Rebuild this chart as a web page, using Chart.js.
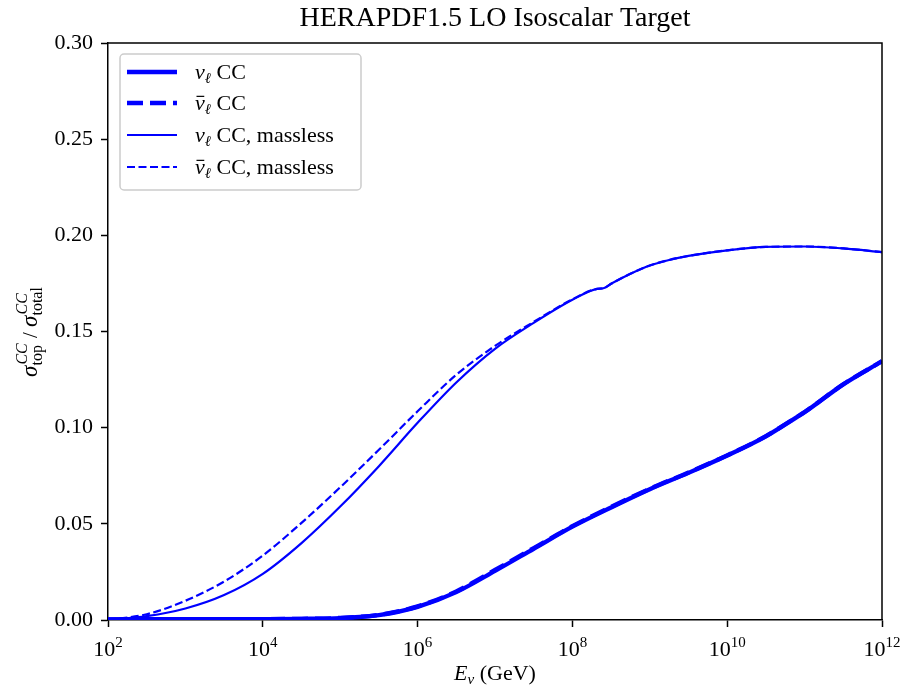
<!DOCTYPE html>
<html>
<head>
<meta charset="utf-8">
<script src="https://cdn.jsdelivr.net/npm/chart.js@4.4.0/dist/chart.umd.min.js"></script>
<style>
  html, body { margin: 0; padding: 0; background: #fff; }
</style>
</head>
<body>
<canvas id="chart" width="904" height="685"></canvas>
<script>
// log10(E / GeV) grids
const masslessLogE = [2, 2.5, 3, 3.5, 4, 4.5, 5, 5.5, 6, 6.5, 7, 7.5, 8, 8.32, 8.4, 8.5, 8.75, 9, 9.25, 9.5, 10, 10.5, 11, 11.5, 12];
const nuMassless    = [0.0, 0.002, 0.006, 0.013, 0.024, 0.040, 0.059, 0.080, 0.1025, 0.1235, 0.141, 0.1545, 0.1665, 0.1722, 0.1725, 0.1748, 0.1800, 0.1843, 0.1872, 0.1893, 0.1922, 0.1940, 0.1942, 0.1932, 0.1913];
const nubarMassless = [0.0, 0.003, 0.010, 0.020, 0.0335, 0.0505, 0.069, 0.0885, 0.1085, 0.1275, 0.1425, 0.155, 0.1667, 0.1722, 0.1725, 0.1748, 0.1800, 0.1843, 0.1872, 0.1893, 0.1922, 0.1940, 0.1942, 0.1932, 0.1913];

const massiveLogE = [2, 3, 4, 4.5, 5, 5.5, 6, 6.5, 7, 7.5, 8, 8.5, 9, 9.5, 10, 10.5, 10.9, 11, 11.5, 12];
const nuCC    = [0.0003, 0.0005, 0.0005, 0.0006, 0.001, 0.0025, 0.0068, 0.0145, 0.0255, 0.037, 0.0485, 0.0585, 0.068, 0.0765, 0.0855, 0.0955, 0.1055, 0.108, 0.1225, 0.1345];
const nubarCC = [0.0003, 0.0005, 0.0005, 0.0006, 0.0011, 0.0027, 0.0071, 0.0149, 0.026, 0.0374, 0.0488, 0.0588, 0.0682, 0.0767, 0.0856, 0.0956, 0.1056, 0.1081, 0.1226, 0.1346];

const xTickExps = [2, 4, 6, 8, 10, 12];
const yTicks = [0, 0.05, 0.10, 0.15, 0.20, 0.25, 0.30];

const BLUE = '#0000ff';
const SERIF = '"Liberation Serif", "DejaVu Serif", serif';

function pts(logs, vals) {
    return logs.map((l, i) => ({ x: Math.pow(10, l), y: vals[i] }));
}

// draws a run of text pieces; piece = {t, size, italic, dy} or {sup, sub, size}
function drawRuns(ctx, runs, x, y, align) {
    const font = r => (r.italic ? 'italic ' : '') + r.size + 'px ' + SERIF;
    let total = 0;
    const widths = runs.map(r => {
        let w;
        if (r.sup !== undefined) {
            ctx.font = 'italic ' + r.size + 'px ' + SERIF;
            const a = ctx.measureText(r.sup).width;
            ctx.font = r.size + 'px ' + SERIF;
            const b = ctx.measureText(r.sub).width;
            w = Math.max(a, b) + 1;
        } else {
            ctx.font = font(r);
            w = ctx.measureText(r.t).width;
        }
        total += w;
        return w;
    });
    let cx = align === 'center' ? x - total / 2 : x;
    ctx.textAlign = 'left';
    ctx.textBaseline = 'alphabetic';
    ctx.fillStyle = '#000';
    runs.forEach((r, i) => {
        if (r.sup !== undefined) {
            ctx.font = 'italic ' + r.size + 'px ' + SERIF;
            ctx.fillText(r.sup, cx + 1, y + r.supDy);
            ctx.font = r.size + 'px ' + SERIF;
            ctx.fillText(r.sub, cx, y + r.subDy);
        } else {
            ctx.font = font(r);
            ctx.fillText(r.t, cx, y + (r.dy || 0));
            if (r.bar) {
                ctx.save();
                ctx.strokeStyle = '#000';
                ctx.lineWidth = 1.2;
                ctx.beginPath();
                ctx.moveTo(cx + 1.5, y - r.size * 0.62);
                ctx.lineTo(cx + widths[i] - 0.5, y - r.size * 0.62);
                ctx.stroke();
                ctx.restore();
            }
        }
        cx += widths[i];
    });
}

const decor = {
    id: 'decor',
    afterDraw(chart) {
        const ctx = chart.ctx;
        const a = chart.chartArea;
        const xs = chart.scales.x;

        // top and right spines
        ctx.save();
        ctx.strokeStyle = '#000';
        ctx.lineWidth = 1.5;
        ctx.beginPath();
        ctx.moveTo(a.left, a.top);
        ctx.lineTo(a.right, a.top);
        ctx.lineTo(a.right, a.bottom);
        ctx.stroke();
        ctx.restore();

        // x tick labels 10^n
        xTickExps.forEach(e => {
            const px = xs.getPixelForValue(Math.pow(10, e));
            drawRuns(ctx, [
                { t: '10', size: 22 },
                { t: String(e), size: 15, dy: -9 }
            ], px, 656, 'center');
        });

        // x axis title
        drawRuns(ctx, [
            { t: 'E', size: 22, italic: true },
            { t: 'ν', size: 15, italic: true, dy: 4 },
            { t: ' (GeV)', size: 22 }
        ], (a.left + a.right) / 2, 680, 'center');

        // y axis title, rotated
        ctx.save();
        ctx.translate(37, (a.top + a.bottom) / 2);
        ctx.rotate(-Math.PI / 2);
        drawRuns(ctx, [
            { t: 'σ', size: 23, italic: true },
            { sup: 'CC', sub: 'top', size: 16, supDy: -10, subDy: 5 },
            { t: ' / ', size: 21 },
            { t: 'σ', size: 23, italic: true },
            { sup: 'CC', sub: 'total', size: 16, supDy: -10, subDy: 5 }
        ], 0, 0, 'center');
        ctx.restore();

        // legend
        const bx = 120, by = 54, bw = 241, bh = 136;
        ctx.save();
        ctx.fillStyle = 'rgba(255,255,255,0.85)';
        ctx.strokeStyle = '#cccccc';
        ctx.lineWidth = 1.5;
        ctx.beginPath();
        ctx.roundRect(bx, by, bw, bh, 4);
        ctx.fill();
        ctx.stroke();
        ctx.restore();

        const rows = [72, 103, 135, 167];
        const texts = [' CC', ' CC', ' CC, massless', ' CC, massless'];
        chart.data.datasets.forEach((ds, i) => {
            const ry = rows[i];
            ctx.save();
            ctx.strokeStyle = ds.borderColor;
            ctx.lineWidth = ds.borderWidth;
            ctx.setLineDash(ds.borderDash || []);
            ctx.beginPath();
            ctx.moveTo(127, ry);
            ctx.lineTo(177, ry);
            ctx.stroke();
            ctx.restore();
            drawRuns(ctx, [
                { t: 'ν', size: 22, italic: true, bar: i % 2 === 1 },
                { t: 'ℓ', size: 15, italic: true, dy: 4 },
                { t: texts[i], size: 22 }
            ], 195, ry + 7, 'left');
        });
    }
};

new Chart(document.getElementById('chart').getContext('2d'), {
    type: 'line',
    data: {
        datasets: [
            {
                label: 'ν CC',
                data: pts(massiveLogE, nuCC),
                borderColor: BLUE,
                borderWidth: 4.3,
                pointRadius: 0,
                cubicInterpolationMode: 'monotone',
                fill: false
            },
            {
                label: 'ν̄ CC',
                data: pts(massiveLogE, nubarCC),
                borderColor: BLUE,
                borderWidth: 4.3,
                borderDash: [16, 7],
                pointRadius: 0,
                cubicInterpolationMode: 'monotone',
                fill: false
            },
            {
                label: 'ν CC, massless',
                data: pts(masslessLogE, nuMassless),
                borderColor: BLUE,
                borderWidth: 2.2,
                pointRadius: 0,
                cubicInterpolationMode: 'monotone',
                fill: false
            },
            {
                label: 'ν̄ CC, massless',
                data: pts(masslessLogE, nubarMassless),
                borderColor: BLUE,
                borderWidth: 2.2,
                borderDash: [8, 3.5],
                pointRadius: 0,
                cubicInterpolationMode: 'monotone',
                fill: false
            }
        ]
    },
    options: {
        responsive: false,
        animation: false,
        layout: { padding: { left: 0, right: 22, top: 0, bottom: 0 } },
        plugins: {
            legend: { display: false },
            tooltip: { enabled: false },
            title: {
                display: true,
                text: 'HERAPDF1.5 LO Isoscalar Target',
                fullSize: false,
                color: '#000',
                font: { family: SERIF, size: 28, weight: 'normal' },
                padding: { top: 2, bottom: 7.4 }
            }
        },
        scales: {
            x: {
                type: 'logarithmic',
                min: 1e2,
                max: 1e12,
                afterBuildTicks: s => { s.ticks = xTickExps.map(e => ({ value: Math.pow(10, e) })); },
                afterFit: s => { s.height = 65; },
                ticks: { autoSkip: false, callback: () => '' },
                grid: { drawOnChartArea: false, drawTicks: true, tickLength: 7, tickWidth: 1.5, tickColor: '#000' },
                border: { display: true, color: '#000', width: 1.5 }
            },
            y: {
                type: 'linear',
                min: 0,
                max: 0.30,
                afterBuildTicks: s => { s.ticks = yTicks.map(v => ({ value: v })); },
                afterFit: s => { s.width = 108; },
                ticks: {
                    padding: 8,
                    color: '#000',
                    font: { family: SERIF, size: 22 },
                    callback: v => Number(v).toFixed(2)
                },
                grid: { drawOnChartArea: false, drawTicks: true, tickLength: 7, tickWidth: 1.5, tickColor: '#000' },
                border: { display: true, color: '#000', width: 1.5 }
            }
        }
    },
    plugins: [decor]
});
</script>
</body>
</html>
